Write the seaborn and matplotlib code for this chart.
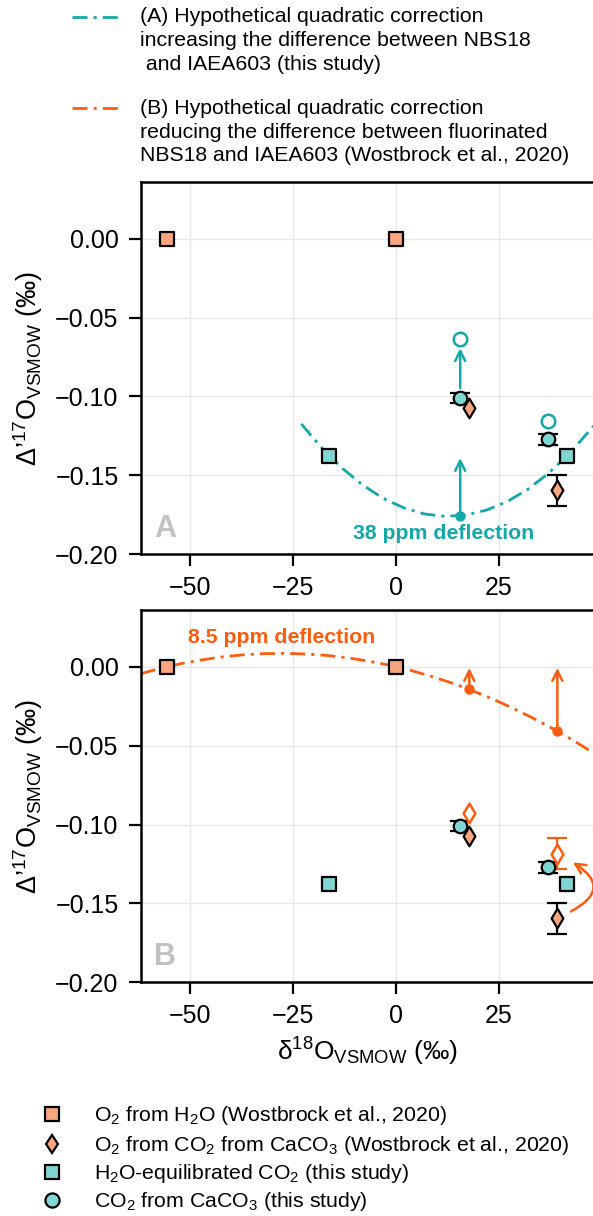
import matplotlib
matplotlib.use("Agg")
import matplotlib.pyplot as plt
import seaborn as sns
from matplotlib.lines import Line2D
from matplotlib.patches import FancyArrowPatch

# ---------------- data ----------------
h2o_o2_x = [-55.6, 0.0]
h2o_o2_y = [0.0, 0.0]

caco3_o2_x = [17.8, 39.2]
caco3_o2_y = [-0.1074, -0.1595]
caco3_o2_err = [0.0, 0.0100]

eqco2_x = [-16.2, 41.6]
eqco2_y = [-0.1375, -0.1375]

caco3_co2_x = [15.6, 37.0]
caco3_co2_y = [-0.1010, -0.1270]
caco3_co2_err = [0.0034, 0.0035]

# corrected (open) symbols
corrA_x = [15.6, 37.0]
corrA_y = [-0.0633, -0.1156]
corrB_x = [17.8, 39.2]
corrB_y = [-0.0929, -0.1185]
corrB_err = [0.0, 0.0100]

# hypothetical quadratic corrections
curveA_x = [-23, -18, -13, -8, -3, 2, 7, 12, 17, 22, 27, 32, 37, 42, 48]
curveA_y = [-0.1174, -0.1326, -0.1456, -0.1563, -0.1647, -0.1707, -0.1745, -0.1760,
            -0.1751, -0.1720, -0.1666, -0.1589, -0.1488, -0.1365, -0.1187]
curveB_x = [-62, -57, -52, -47, -42, -37, -32, -27, -22, -17, -12, -7, -2, 3, 8,
            13, 18, 23, 28, 33, 38, 43, 48]
curveB_y = [-0.0044, -0.0009, 0.0021, 0.0044, 0.0063, 0.0076, 0.0083, 0.0085, 0.0081,
            0.0072, 0.0058, 0.0037, 0.0012, -0.0019, -0.0056, -0.0098, -0.0146,
            -0.0199, -0.0258, -0.0322, -0.0391, -0.0466, -0.0547]

# deflection points and arrows
deflA_x = [15.6]
deflA_y = [-0.1755]
arrowA_x = [15.6, 15.6]
arrowA_from = [-0.0947, -0.1755]
arrowA_to = [-0.0694, -0.1390]

deflB_x = [17.8, 39.2]
deflB_y = [-0.0144, -0.0407]
arrowB_to = [-0.0008, -0.0008]

curved_from = (42.5, -0.1551)
curved_to = (43.0, -0.1240)

xticks = [-50, -25, 0, 25]
yticks = [-0.20, -0.15, -0.10, -0.05, 0.00]

legend_top = [
    "(A) Hypothetical quadratic correction\nincreasing the difference between NBS18\n and IAEA603 (this study)",
    "(B) Hypothetical quadratic correction\nreducing the difference between fluorinated\nNBS18 and IAEA603 (Wostbrock et al., 2020)",
]
legend_bottom = [
    "O$_2$ from H$_2$O (Wostbrock et al., 2020)",
    "O$_2$ from CO$_2$ from CaCO$_3$ (Wostbrock et al., 2020)",
    "H$_2$O-equilibrated CO$_2$ (this study)",
    "CO$_2$ from CaCO$_3$ (this study)",
]

# ---------------- style ----------------
sns.set_style("ticks")
plt.rcParams["font.family"] = ["Liberation Sans", "DejaVu Sans"]
plt.rcParams["mathtext.fontset"] = "custom"
plt.rcParams["mathtext.rm"] = "Liberation Sans"
plt.rcParams["mathtext.it"] = "Liberation Sans:italic"
plt.rcParams["mathtext.bf"] = "Liberation Sans:bold"
for k in ["text.color", "axes.labelcolor", "xtick.color", "ytick.color",
          "axes.edgecolor"]:
    plt.rcParams[k] = "black"

TEAL = "#14a8a8"
ORANGE = "#ff5c0f"
SALMON = "#f9a67f"
AQUA = "#7fd6d3"
GRAY = "#c2c2c2"
LW = 2.0
DASH = (0, (5.4, 2.2, 1.1, 2.2))

fig = plt.figure(figsize=(5.93, 12.16), dpi=100)
axA = fig.add_axes([0.2373, 0.5442, 0.7644, 0.3062])
axB = fig.add_axes([0.2373, 0.1922, 0.7644, 0.3062])


def nz(xs, ys, es):
    sel = [(x, y, e) for x, y, e in zip(xs, ys, es) if e > 0]
    return [s[0] for s in sel], [s[1] for s in sel], [s[2] for s in sel]


def base_points(ax):
    ex, ey, ee = nz(caco3_co2_x, caco3_co2_y, caco3_co2_err)
    ax.errorbar(ex, ey, yerr=ee, fmt="none", ecolor="black", elinewidth=1.6,
                capsize=7.4, capthick=1.6, zorder=2)
    ex, ey, ee = nz(caco3_o2_x, caco3_o2_y, caco3_o2_err)
    ax.errorbar(ex, ey, yerr=ee, fmt="none", ecolor="black", elinewidth=1.6,
                capsize=7.4, capthick=1.6, zorder=2)
    sns.scatterplot(x=h2o_o2_x, y=h2o_o2_y, ax=ax, marker="s", s=105, color=SALMON,
                    edgecolor="black", linewidth=1.6, zorder=3, legend=False)
    sns.scatterplot(x=eqco2_x, y=eqco2_y, ax=ax, marker="s", s=105, color=AQUA,
                    edgecolor="black", linewidth=1.6, zorder=3, legend=False)
    sns.scatterplot(x=caco3_co2_x, y=caco3_co2_y, ax=ax, marker="o", s=95, color=AQUA,
                    edgecolor="black", linewidth=1.6, zorder=3, legend=False)
    sns.scatterplot(x=caco3_o2_x, y=caco3_o2_y, ax=ax, marker="d", s=100, color=SALMON,
                    edgecolor="black", linewidth=1.6, zorder=4, legend=False)


def style_axes(ax):
    ax.set_xlim(-62, 48.1)
    ax.set_ylim(-0.2, 0.036)
    ax.set_xticks(xticks)
    ax.set_yticks(yticks)
    ax.grid(True, color="#e8e8e8", lw=1.0)
    ax.set_axisbelow(True)
    for sp in ax.spines.values():
        sp.set_linewidth(1.8)
        sp.set_color("black")
    ax.tick_params(labelsize=18, length=8.4, width=1.6, pad=7.5, direction="out",
                   color="black", labelcolor="black")
    ax.set_ylabel("Δ’$^{17}$O$_{\\mathrm{VSMOW}}$ (‰)", fontsize=19.5)
    ax.yaxis.set_label_coords(-0.2116, 0.5)


def arrow(ax, x, y0, y1, col):
    ax.annotate("", xy=(x, y1), xytext=(x, y0),
                arrowprops=dict(arrowstyle="->", color=col, lw=1.8, shrinkA=0,
                                shrinkB=0, mutation_scale=18))


# ---------------- panel A ----------------
sns.lineplot(x=curveA_x, y=curveA_y, ax=axA, color=TEAL, lw=LW, linestyle=DASH,
             sort=False, estimator=None, zorder=1.5, legend=False)
base_points(axA)
sns.scatterplot(x=corrA_x, y=corrA_y, ax=axA, marker="o", s=95, color="white",
                edgecolor=TEAL, linewidth=1.8, zorder=3, legend=False)
sns.scatterplot(x=deflA_x, y=deflA_y, ax=axA, marker="o", s=55, color=TEAL,
                edgecolor=TEAL, linewidth=0, zorder=3, legend=False)
for x, y0, y1 in zip(arrowA_x, arrowA_from, arrowA_to):
    arrow(axA, x, y0, y1, TEAL)
axA.text(11.5, -0.1902, "38 ppm deflection", color=TEAL, fontsize=15.3,
         fontweight="bold", ha="center", va="baseline")
axA.text(-56.0, -0.1888, "A", color=GRAY, fontsize=22, fontweight="bold",
         ha="center", va="baseline")
style_axes(axA)
axA.set_xlabel("")

# ---------------- panel B ----------------
sns.lineplot(x=curveB_x, y=curveB_y, ax=axB, color=ORANGE, lw=LW, linestyle=DASH,
             sort=False, estimator=None, zorder=1.5, legend=False)
base_points(axB)
ex, ey, ee = nz(corrB_x, corrB_y, corrB_err)
axB.errorbar(ex, ey, yerr=ee, fmt="none", ecolor=ORANGE, elinewidth=1.6,
             capsize=7.4, capthick=1.6, zorder=2)
sns.scatterplot(x=corrB_x, y=corrB_y, ax=axB, marker="d", s=100, color="white",
                edgecolor=ORANGE, linewidth=1.8, zorder=4, legend=False)
sns.scatterplot(x=deflB_x, y=deflB_y, ax=axB, marker="o", s=55, color=ORANGE,
                edgecolor=ORANGE, linewidth=0, zorder=3, legend=False)
for x, y0, y1 in zip(deflB_x, deflB_y, arrowB_to):
    arrow(axB, x, y0, y1, ORANGE)
curved = FancyArrowPatch(curved_from, curved_to, connectionstyle="arc3,rad=0.85",
                         arrowstyle="->", mutation_scale=18, lw=1.8, color=ORANGE,
                         shrinkA=0, shrinkB=0, zorder=5)
axB.add_patch(curved)
axB.text(-27.7, 0.0151, "8.5 ppm deflection", color=ORANGE, fontsize=15.3,
         fontweight="bold", ha="center", va="baseline")
axB.text(-56.0, -0.1888, "B", color=GRAY, fontsize=22, fontweight="bold",
         ha="center", va="baseline")
style_axes(axB)
axB.set_xlabel("δ$^{18}$O$_{\\mathrm{VSMOW}}$ (‰)", fontsize=19)
axB.xaxis.set_label_coords(0.5, -0.1442)

# ---------------- top legend ----------------
W, H = 593.0, 1216.0
for (handle_y, top_y, label, col) in [(16.7, 7.5, legend_top[0], TEAL),
                                      (108.3, 99.0, legend_top[1], ORANGE)]:
    fig.add_artist(Line2D([72 / W, 119 / W], [1 - handle_y / H] * 2, color=col,
                          lw=LW, linestyle=DASH, transform=fig.transFigure))
    fig.text(140 / W, 1 - top_y / H, label, fontsize=15.3, ha="left",
             va="top", linespacing=1.3)

# ---------------- bottom legend ----------------
rows_y = [1114, 1144, 1172, 1200]
specs = [
    dict(marker="s", ms=10.2, mfc=SALMON),
    dict(marker="d", ms=9.6, mfc=SALMON),
    dict(marker="s", ms=10.2, mfc=AQUA),
    dict(marker="o", ms=10.2, mfc=AQUA),
]
for y, lab, sp in zip(rows_y, legend_bottom, specs):
    fig.add_artist(Line2D([52 / W], [1 - y / H], linestyle="none", mec="black",
                          mew=1.6, transform=fig.transFigure, **sp))
    fig.text(94 / W, 1 - (y + 7) / H, lab, fontsize=15.3, ha="left", va="baseline")

fig.savefig("out.png", dpi=100)
